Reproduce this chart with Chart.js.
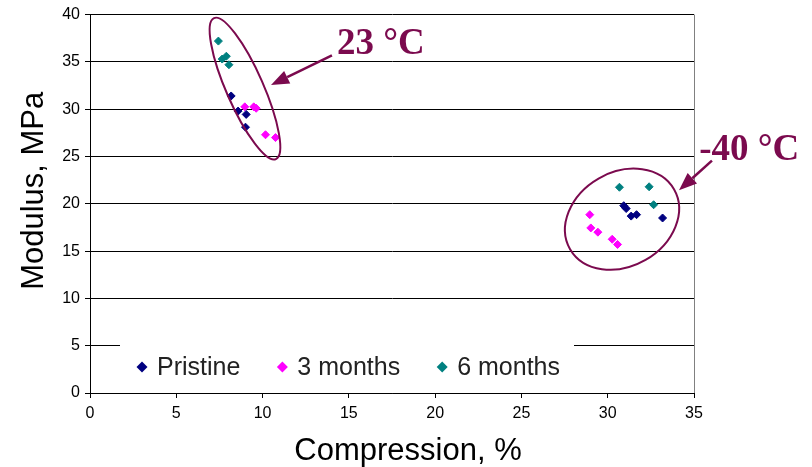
<!DOCTYPE html>
<html>
<head>
<meta charset="utf-8">
<script src="https://cdn.jsdelivr.net/npm/chart.js@4/dist/chart.umd.min.js"></script>
<style>
    html, body { margin: 0; padding: 0; background: #fff; }
</style>
</head>
<body>
<canvas id="modulus-chart" width="812" height="467"></canvas>
<script>
// series
const seriesNames = ['Pristine', '3 months', '6 months'];
const seriesColors = ['#000080', '#ff00ff', '#008080'];

const pristineX = [8.18, 8.58, 9.05, 9.01, 30.93, 31.07, 31.36, 31.67, 33.18];
const pristineY = [31.4, 29.8, 29.45, 28.1, 19.8, 19.5, 18.7, 18.85, 18.5];

const threeMonthsX = [8.97, 9.49, 9.63, 10.17, 10.75, 28.96, 29.02, 29.43, 30.26, 30.57];
const threeMonthsY = [30.25, 30.25, 30.1, 27.3, 27.0, 18.85, 17.45, 17.0, 16.25, 15.7];

const sixMonthsX = [7.44, 7.66, 7.9, 8.05, 30.68, 32.4, 32.66];
const sixMonthsY = [37.2, 35.3, 35.6, 34.7, 21.75, 21.8, 19.9];

const xTicks = [0, 5, 10, 15, 20, 25, 30, 35];
const yTicks = [0, 5, 10, 15, 20, 25, 30, 35, 40];

const xTitle = 'Compression, %';
const yTitle = 'Modulus, MPa';

// temperature call-outs, anchored in data units
const callouts = [
    { text: '23 °C', at: [14.31, 35.8], from: [14.02, 35.7], to: [10.49, 32.55], ring: [8.98, 32.18] },
    { text: '-40 °C', at: [35.3, 24.67], from: [36.04, 24.57], to: [34.13, 21.42], ring: [30.83, 18.37] },
];
const ringShapes = [
    { rx: 77, ry: 18.5, rot: 66.3 },
    { rx: 60, ry: 47, rot: -30 },
];

const accent = '#7b0a4e';
const sans = "'Liberation Sans', Arial, sans-serif";

const zip = (xs, ys) => xs.map((x, i) => ({ x, y: ys[i] }));
const seriesData = [zip(pristineX, pristineY), zip(threeMonthsX, threeMonthsY), zip(sixMonthsX, sixMonthsY)];

const frameAndTitles = {
    id: 'frameAndTitles',
    afterDatasetsDraw(chart) {
        const { ctx, chartArea: area, scales: { x, y } } = chart;
        ctx.save();

        // right edge of the plot
        ctx.strokeStyle = '#808080';
        ctx.lineWidth = 1;
        ctx.beginPath();
        ctx.moveTo(Math.round(area.right) + 0.5, area.top);
        ctx.lineTo(Math.round(area.right) + 0.5, area.bottom);
        ctx.stroke();

        // legend box sitting on the plot
        const boxTop = y.getPixelForValue(yTicks[1]) - 3;
        const boxLeft = area.left + 30;
        const boxRight = area.left + 484;
        ctx.fillStyle = '#fff';
        ctx.fillRect(boxLeft, boxTop, boxRight - boxLeft, area.bottom - 2 - boxTop);

        ctx.font = `25px ${sans}`;
        ctx.textBaseline = 'middle';
        ctx.textAlign = 'left';
        let cx = area.left + 52;
        const cy = area.bottom - 26;
        seriesNames.forEach((name, i) => {
            ctx.fillStyle = seriesColors[i];
            ctx.beginPath();
            ctx.moveTo(cx - 5.5, cy);
            ctx.lineTo(cx, cy - 5.5);
            ctx.lineTo(cx + 5.5, cy);
            ctx.lineTo(cx, cy + 5.5);
            ctx.closePath();
            ctx.fill();
            ctx.fillStyle = '#222';
            ctx.fillText(name, cx + 15, cy + 1);
            cx += 15 + ctx.measureText(name).width + 42;
        });

        // axis titles
        ctx.fillStyle = '#000';
        ctx.font = `31px ${sans}`;
        ctx.textAlign = 'center';
        ctx.textBaseline = 'alphabetic';
        ctx.fillText(xTitle, (area.left + area.right) / 2 + 16, area.bottom + 67);
        ctx.save();
        ctx.translate(area.left - 47, (area.top + area.bottom) / 2 - 13);
        ctx.rotate(-Math.PI / 2);
        ctx.fillText(yTitle, 0, 0);
        ctx.restore();

        // call-outs: ring, arrow, label
        callouts.forEach((c, i) => {
            const shape = ringShapes[i];
            ctx.strokeStyle = accent;
            ctx.fillStyle = accent;
            ctx.lineWidth = 2;
            ctx.beginPath();
            ctx.ellipse(x.getPixelForValue(c.ring[0]), y.getPixelForValue(c.ring[1]),
                shape.rx, shape.ry, shape.rot * Math.PI / 180, 0, Math.PI * 2);
            ctx.stroke();

            const x0 = x.getPixelForValue(c.from[0]);
            const y0 = y.getPixelForValue(c.from[1]);
            const x1 = x.getPixelForValue(c.to[0]);
            const y1 = y.getPixelForValue(c.to[1]);
            const ang = Math.atan2(y1 - y0, x1 - x0);
            const headLen = 18;
            const headHalf = 7;
            const bx = x1 - Math.cos(ang) * headLen;
            const by = y1 - Math.sin(ang) * headLen;
            ctx.lineWidth = 2.5;
            ctx.beginPath();
            ctx.moveTo(x0, y0);
            ctx.lineTo(bx, by);
            ctx.stroke();
            ctx.beginPath();
            ctx.moveTo(x1, y1);
            ctx.lineTo(bx + Math.sin(ang) * headHalf, by - Math.cos(ang) * headHalf);
            ctx.lineTo(bx - Math.sin(ang) * headHalf, by + Math.cos(ang) * headHalf);
            ctx.closePath();
            ctx.fill();

            ctx.font = "bold 37px 'Liberation Serif', 'Times New Roman', serif";
            ctx.textAlign = 'left';
            ctx.fillText(c.text, x.getPixelForValue(c.at[0]), y.getPixelForValue(c.at[1]));
        });

        ctx.restore();
    },
};

new Chart(document.getElementById('modulus-chart'), {
    type: 'scatter',
    data: {
        datasets: seriesNames.map((name, i) => ({
            label: name,
            data: seriesData[i],
            pointStyle: 'rectRot',
            pointRadius: 4,
            pointBorderWidth: 1,
            backgroundColor: seriesColors[i],
            borderColor: seriesColors[i],
        })),
    },
    options: {
        responsive: false,
        animation: false,
        layout: {
            padding: { top: 12, right: 118, left: 0, bottom: 0 },
        },
        plugins: {
            legend: { display: false },
            tooltip: { enabled: false },
        },
        scales: {
            x: {
                type: 'linear',
                min: xTicks[0],
                max: xTicks[xTicks.length - 1],
                afterBuildTicks: (scale) => { scale.ticks = xTicks.map((v) => ({ value: v })); },
                afterFit: (scale) => { scale.height = 74; },
                ticks: {
                    color: '#000',
                    padding: 6,
                    font: { family: sans, size: 16 },
                },
                grid: {
                    drawOnChartArea: false,
                    color: '#000',
                    tickLength: 5,
                },
                border: { color: '#000', width: 1 },
            },
            y: {
                min: yTicks[0],
                max: yTicks[yTicks.length - 1],
                afterBuildTicks: (scale) => { scale.ticks = yTicks.map((v) => ({ value: v })); },
                afterFit: (scale) => { scale.width = 90; },
                ticks: {
                    color: '#000',
                    padding: 5,
                    font: { family: sans, size: 16 },
                },
                grid: {
                    color: '#000',
                    tickLength: 5,
                },
                border: { color: '#000', width: 1 },
            },
        },
    },
    plugins: [frameAndTitles],
});
</script>
</body>
</html>
